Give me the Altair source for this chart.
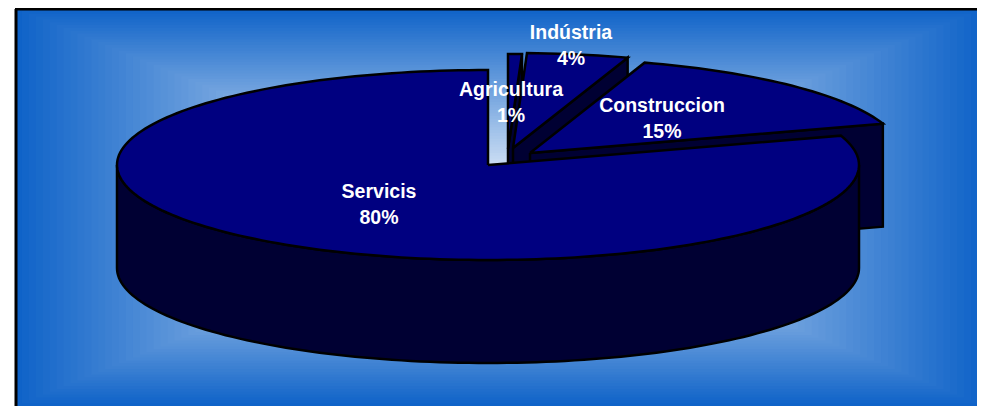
import math
import altair as alt
import pandas as pd

# --- chart values ---
categories = ["Agricultura", "Indústria", "Construccion", "Servicis"]
shares = [0.6, 4.4, 15, 80]

# --- drawing settings (pixel-like units of the fixed x / y scales) ---
W, H = 969, 398
CENTER = (488, 165)
RX, RY, DEPTH = 371, 95, 103
OFFSETS = {"Agricultura": (20, -16), "Indústria": (25, -17),
           "Construccion": (42, -12), "Servicis": (0, 0)}
LABELS = {"Agricultura": (511, 90), "Indústria": (571, 33),
          "Construccion": (662, 106), "Servicis": (379, 192)}
LINE_GAP = 26
TOP, SIDE, EDGE = "#000080", "#000033", "#000000"
FRAME = (15, 8, 985, 406)
GRAD_OUT, GRAD_IN = (15, 99, 200), (255, 255, 255)

xs = alt.Scale(domain=[8, 8 + W], range=[0, W], nice=False, zero=False)
ys = alt.Scale(domain=[8, 8 + H], range=[0, H], nice=False, zero=False)


def rim(ax, ay, t, dy=0):
    r = math.radians(t)
    return (ax + RX * math.sin(r), ay - RY * math.cos(r) + dy)


def arc(ax, ay, a, b, dy=0):
    n = max(2, int(abs(b - a) / 1.5))
    return [rim(ax, ay, a + (b - a) * i / n, dy) for i in range(n + 1)]


def poly(pts, fill):
    pts = list(pts) + [pts[0]]
    df = pd.DataFrame({"x": [p[0] for p in pts], "y": [p[1] for p in pts], "i": range(len(pts))})
    return alt.Chart(df).mark_line(fill=fill, stroke=EDGE, strokeWidth=2.5, strokeJoin="miter", clip=True).encode(
        x=alt.X("x:Q", scale=xs, axis=None),
        y=alt.Y("y:Q", scale=ys, axis=None),
        order="i:Q",
    )


# background: rectangular path gradient
fx0, fy0, fx1, fy1 = FRAME
cx, cy = (fx0 + fx1) / 2, (fy0 + fy1) / 2
hw, hh = (fx1 - fx0) / 2, (fy1 - fy0) / 2
rows = []
STEPS = 70
for k in range(STEPS, 0, -1):
    t = k / STEPS
    c = [round(GRAD_IN[j] + (GRAD_OUT[j] - GRAD_IN[j]) * t) for j in range(3)]
    rows.append({"x": cx - hw * t, "x2": cx + hw * t, "y": cy - hh * t, "y2": cy + hh * t,
                 "c": "#%02x%02x%02x" % tuple(c), "k": STEPS - k})
bg = alt.Chart(pd.DataFrame(rows)).mark_rect(strokeWidth=0, clip=True).encode(
    x=alt.X("x:Q", scale=xs, axis=None), x2="x2:Q",
    y=alt.Y("y:Q", scale=ys, axis=None), y2="y2:Q",
    color=alt.Color("c:N", scale=None),
    order="k:Q",
)

layers = [bg]

# slices, back to front
start = 0.0
spans = {}
for name, s in zip(categories, shares):
    spans[name] = (start, start + s * 3.6)
    start += s * 3.6

for name in categories:
    a, b = spans[name]
    dx, dy = OFFSETS[name]
    ax, ay = CENTER[0] + dx, CENTER[1] + dy
    if name == "Servicis":
        top = arc(ax, ay, 90, 270)
        low = arc(ax, ay, 270, 90, DEPTH)
        layers.append(poly(top + low, SIDE))
    else:
        e = rim(ax, ay, b)
        layers.append(poly([(ax, ay), e, (e[0], e[1] + DEPTH), (ax, ay + DEPTH)], SIDE))
    layers.append(poly([(ax, ay)] + arc(ax, ay, a, b), TOP))

# labels
txt_rows = []
for name, s in zip(categories, shares):
    lx, ly = LABELS[name]
    txt_rows.append({"x": lx, "y": ly, "t": name})
    txt_rows.append({"x": lx, "y": ly + LINE_GAP, "t": f"{round(s + 1e-9)}%"})
text = alt.Chart(pd.DataFrame(txt_rows)).mark_text(
    font="Liberation Sans", fontSize=19.5, fontWeight="bold", color="white", align="center", baseline="middle"
).encode(
    x=alt.X("x:Q", scale=xs, axis=None),
    y=alt.Y("y:Q", scale=ys, axis=None),
    text="t:N",
)
layers.append(text)

# frame lines on the top and left
frame_df = pd.DataFrame({"x": [fx0 + 1], "y": [fy0 + 1], "y2": [fy1]})
left = alt.Chart(frame_df).mark_rule(color="#000000", strokeWidth=3, clip=True).encode(
    x=alt.X("x:Q", scale=xs, axis=None), y=alt.Y("y:Q", scale=ys, axis=None), y2="y2:Q")
top_df = pd.DataFrame({"x": [fx0], "x2": [fx1], "y": [fy0 + 1]})
top = alt.Chart(top_df).mark_rule(color="#000000", strokeWidth=3, clip=True).encode(
    x=alt.X("x:Q", scale=xs, axis=None), x2="x2:Q", y=alt.Y("y:Q", scale=ys, axis=None))
layers += [left, top]

chart = alt.layer(*layers).properties(
    width=W, height=H, padding=0, background="white",
    autosize=alt.AutoSizeParams(type="none"),
).configure_view(stroke=None)

chart.save("out.html", embed_options={"renderer": "svg", "actions": False})
